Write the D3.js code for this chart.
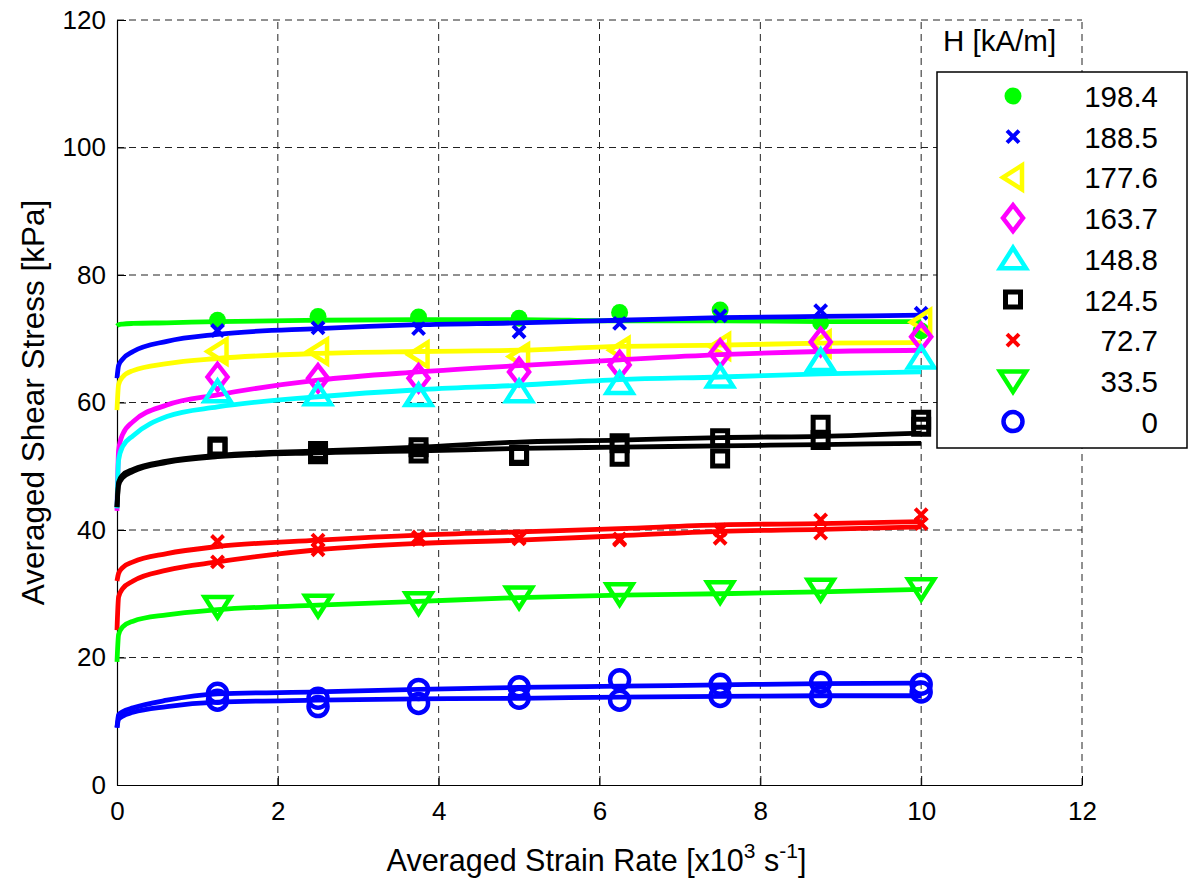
<!DOCTYPE html>
<html>
<head>
<meta charset="utf-8">
<script src="https://cdn.jsdelivr.net/npm/d3@7"></script>
<style>
  html, body { margin: 0; padding: 0; background: #fff; }
  svg { display: block; font-family: "Liberation Sans", Arial, Helvetica, sans-serif; }
</style>
</head>
<body>
<svg id="chart" width="1188" height="882"></svg>
<script>
// ---------------- DATA ----------------
const strainX = [1.25, 2.5, 3.75, 5, 6.25, 7.5, 8.75, 10];
const fitX = [0, 0.02, 0.07, 0.2, 0.62, 1.25, 2.5, 3.75, 5, 6.25, 7.5, 8.75, 10];
const xTicks = [0, 2, 4, 6, 8, 10, 12];
const yTicks = [0, 20, 40, 60, 80, 100, 120];

const fieldLabels = ["198.4", "188.5", "177.6", "163.7", "148.8", "124.5", "72.7", "33.5", "0"];
const fieldColors = ["#00ff00", "#0000ff", "#ffff00", "#ff00ff", "#00ffff", "#000000", "#ff0000", "#00ff00", "#0000ff"];
const fieldSymbols = ["dot", "x", "triLeft", "diamond", "triUp", "square", "x", "triDown", "circle"];

const pts198 = [[72.9, 73.5, 73.4, 73.2, 74.1, 74.5, 72.5, 71.2]];
const fit198 = [[72.0, 72.2, 72.3, 72.4, 72.5, 72.7, 72.9, 73.0, 73.0, 72.8, 72.8, 72.7, 72.7]];
const pts188 = [[71.3, 71.7, 71.6, 71.1, 72.4, 73.6, 74.4, 74.0]];
const fit188 = [[63.8, 65.8, 66.8, 68.0, 69.6, 70.7, 71.6, 72.2, 72.5, 72.9, 73.3, 73.5, 73.7]];
const pts177 = [[68.0, 68.0, 67.5, 67.2, 68.2, 68.8, 69.2, 72.6]];
const fit177 = [[58.8, 62.8, 64.0, 65.0, 66.1, 66.9, 67.7, 68.0, 68.2, 68.8, 69.0, 69.3, 69.4]];
const pts163 = [[64.0, 63.8, 63.8, 64.8, 65.9, 67.7, 69.5, 70.3]];
const fit163 = [[43.0, 52.5, 55.0, 57.0, 59.6, 61.2, 63.5, 64.8, 65.8, 66.7, 67.5, 68.0, 68.2]];
const pts148 = [[61.7, 61.2, 61.1, 61.7, 63.0, 64.0, 66.6, 67.0]];
const fit148 = [[43.4, 51.0, 53.1, 54.8, 57.8, 59.3, 60.9, 62.0, 62.7, 63.6, 64.0, 64.5, 64.8]];
const pts124 = [[53.1, 52.4, 53.0, 51.6, 53.6, 54.4, 56.5, 57.3],
                [52.9, 51.9, 52.0, 51.8, 51.5, 51.2, 54.1, 56.2]];
const fit124 = [[43.6, 47.5, 48.6, 49.5, 50.8, 51.7, 52.4, 53.0, 53.8, 54.1, 54.5, 54.7, 55.2],
                [43.6, 47.0, 48.2, 49.2, 50.6, 51.5, 52.1, 52.4, 52.8, 53.0, 53.2, 53.4, 53.6]];
const pts72 = [[38.2, 38.4, 38.9, 38.8, 38.6, 40.0, 41.6, 42.4],
               [35.0, 36.9, 38.5, 38.6, 38.4, 38.7, 39.5, 41.0]];
const fit72 = [[32.0, 33.2, 34.1, 35.0, 36.3, 37.4, 38.4, 39.2, 39.7, 40.2, 40.8, 41.0, 41.3],
               [24.3, 29.5, 30.8, 32.0, 33.7, 35.0, 36.9, 37.9, 38.4, 39.1, 39.8, 40.1, 40.5]];
const pts33 = [[28.0, 28.2, 28.6, 29.5, 30.0, 30.3, 30.7, 30.8]];
const fit33 = [[19.3, 23.6, 24.8, 25.7, 26.7, 27.5, 28.2, 28.8, 29.4, 29.8, 30.0, 30.3, 30.7]];
const pts0 = [[14.4, 13.6, 15.0, 15.4, 16.5, 15.8, 16.1, 15.8],
              [13.3, 12.3, 12.8, 13.6, 13.3, 13.9, 13.9, 14.6]];
const fit0 = [[9.0, 11.0, 11.5, 12.1, 13.3, 14.3, 14.6, 15.0, 15.3, 15.5, 15.7, 15.9, 16.0],
              [9.0, 10.3, 10.8, 11.4, 12.3, 13.0, 13.3, 13.5, 13.6, 13.8, 13.9, 14.0, 14.0]];

const allPts = [pts198, pts188, pts177, pts163, pts148, pts124, pts72, pts33, pts0];
const allFits = [fit198, fit188, fit177, fit163, fit148, fit124, fit72, fit33, fit0];

// ---------------- LAYOUT ----------------
const svg = d3.select("#chart");
const plot = { left: 117, right: 1082, top: 20, bottom: 785 };
const x = d3.scaleLinear().domain([0, 12]).range([plot.left, plot.right]);
const y = d3.scaleLinear().domain([0, 120]).range([plot.bottom, plot.top]);

// grid
const grid = svg.append("g").attr("stroke", "#222").attr("stroke-width", 1).attr("stroke-dasharray", "7,5");
grid.selectAll("line.gx").data(xTicks.filter(d => d > 0)).join("line")
  .attr("x1", d => x(d)).attr("x2", d => x(d)).attr("y1", plot.bottom).attr("y2", plot.top);
grid.selectAll("line.gy").data(yTicks.filter(d => d > 0)).join("line")
  .attr("y1", d => y(d)).attr("y2", d => y(d)).attr("x1", plot.left).attr("x2", plot.right);

// axes
const tickFont = 26;
const xAxis = svg.append("g").attr("transform", `translate(0,${plot.bottom})`)
  .call(d3.axisBottom(x).tickValues(xTicks).tickFormat(d3.format("d")).tickSizeInner(-9).tickSizeOuter(0).tickPadding(17));
const yAxis = svg.append("g").attr("transform", `translate(${plot.left},0)`)
  .call(d3.axisLeft(y).tickValues(yTicks).tickFormat(d3.format("d")).tickSizeInner(-9).tickSizeOuter(0).tickPadding(11));
[xAxis, yAxis].forEach(a => {
  a.attr("font-family", null).attr("font-size", null);
  a.selectAll("text").attr("font-size", tickFont).attr("fill", "#000");
  a.selectAll("line").attr("stroke", "#000");
  a.select(".domain").attr("stroke", "#000").attr("stroke-width", 1.2);
});

// symbols
function symbolPath(type) {
  switch (type) {
    case "x": return "M-6,-6L6,6M-6,6L6,-6";
    case "triLeft": return "M-10,0L9,-12L9,12Z";
    case "diamond": return "M0,-13L10,0L0,13L-10,0Z";
    case "triUp": return "M0,-11L13,9.5L-13,9.5Z";
    case "triDown": return "M0,11L13,-9.5L-13,-9.5Z";
    case "square": return "M-7.5,-7.5H7.5V7.5H-7.5Z";
  }
  return "";
}
function drawMarker(g, type, color) {
  if (type === "dot") {
    g.append("circle").attr("r", 8.5).attr("fill", color);
  } else if (type === "circle") {
    g.append("circle").attr("r", 9.5).attr("fill", "none").attr("stroke", color).attr("stroke-width", 4.5);
  } else {
    g.append("path").attr("d", symbolPath(type)).attr("fill", "none").attr("stroke", color)
      .attr("stroke-width", type === "square" ? 5 : (type === "x" ? 4 : 4.5))
      .attr("stroke-linejoin", "miter");
  }
}

// series
const line = d3.line().x(d => x(d[0])).y(d => y(d[1])).curve(d3.curveMonotoneX);
const series = svg.append("g");
fieldLabels.forEach((lab, i) => {
  const g = series.append("g");
  allFits[i].forEach(f => {
    g.append("path").datum(fitX.map((xv, k) => [xv, f[k]]))
      .attr("d", line).attr("fill", "none").attr("stroke", fieldColors[i]).attr("stroke-width", 4.8)
      .attr("stroke-linejoin", "round");
  });
  allPts[i].forEach(p => {
    p.forEach((v, k) => {
      const m = g.append("g").attr("transform", `translate(${x(strainX[k])},${y(v)})`);
      drawMarker(m, fieldSymbols[i], fieldColors[i]);
    });
  });
});

// axis labels
svg.append("text").attr("x", (plot.left + plot.right) / 2 - 3).attr("y", 871).attr("text-anchor", "middle")
  .attr("font-size", 30.5).attr("fill", "#000")
  .call(t => {
    t.append("tspan").text("Averaged Strain Rate [x10");
    t.append("tspan").attr("dy", -13).attr("font-size", 21).text("3");
    t.append("tspan").attr("dy", 13).text(" s");
    t.append("tspan").attr("dy", -13).attr("font-size", 21).text("-1");
    t.append("tspan").attr("dy", 13).text("]");
  });
svg.append("text").attr("transform", `translate(44,${(plot.top + plot.bottom) / 2}) rotate(-90)`)
  .attr("text-anchor", "middle").attr("font-size", 31.5).attr("fill", "#000")
  .text("Averaged Shear Stress [kPa]");

// legend
svg.append("text").attr("x", 943).attr("y", 51).attr("font-size", 29.5).attr("fill", "#000").text("H [kA/m]");
const leg = svg.append("g");
leg.append("rect").attr("x", 937).attr("y", 72).attr("width", 250).attr("height", 376)
  .attr("fill", "#fff").attr("stroke", "#000").attr("stroke-width", 1.5);
fieldLabels.forEach((lab, i) => {
  const cy = 96 + i * 40.7;
  const m = leg.append("g").attr("transform", `translate(1013,${cy})`);
  drawMarker(m, fieldSymbols[i], fieldColors[i]);
  leg.append("text").attr("x", 1158).attr("y", cy + 11).attr("text-anchor", "end")
    .attr("font-size", 29.5).attr("fill", "#000").text(lab);
});
</script>
</body>
</html>
